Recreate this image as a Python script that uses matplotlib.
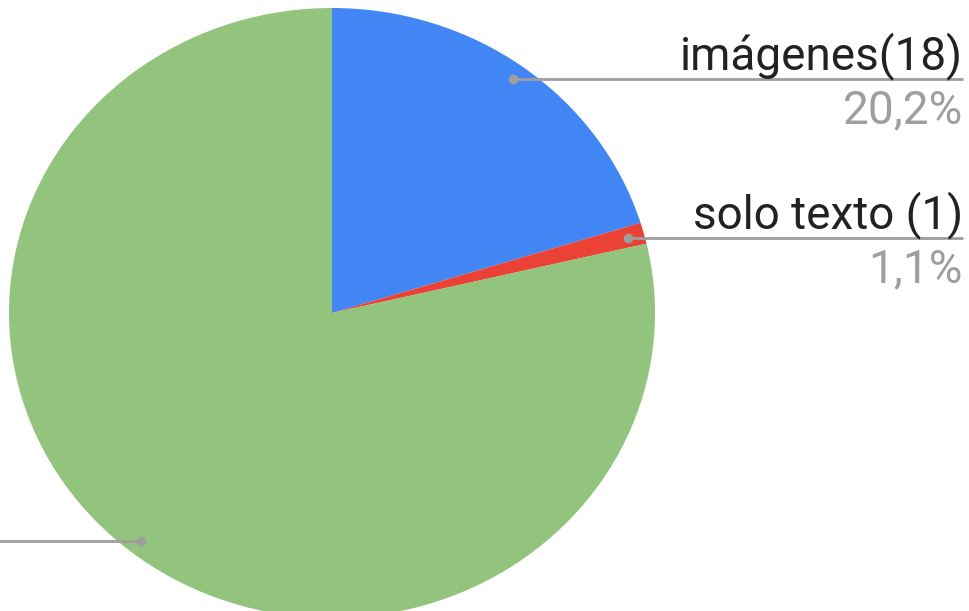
import matplotlib
matplotlib.use("Agg")
import matplotlib.pyplot as plt
import numpy as np

# data
labels = ["imágenes(18)", "solo texto (1)", "otros (70)"]
values = [18, 1, 70]
pct_labels = ["20,2%", "1,1%", "78,7%"]
colors = ["#4285F4", "#EA4335", "#93C47D"]

W, H = 969, 611
plt.rcParams["font.family"] = ["Roboto", "DejaVu Sans"]

fig = plt.figure(figsize=(W / 100, H / 100), dpi=100)
ax = fig.add_axes([0, 0, 1, 1])

# pie is slightly squashed vertically in the screenshot
sy = 305 / 323
cx, cy_px, r = 332, 313, 323
ax.pie(values, colors=colors, startangle=90, counterclock=False,
       center=(cx, (H - cy_px) / sy), radius=r,
       wedgeprops=dict(linewidth=0))
ax.set_aspect("auto")
ax.set_xlim(0, W)
ax.set_ylim(0, H / sy)
ax.axis("off")


def to_data(px, py):
    return px, (H - py) / sy


line_col = "#9E9E9E"
# leader lines: (dot x, line y)
leaders = [(513, 79), (628, 238), (141, 541)]
for i, (dx, ly) in enumerate(leaders):
    x0 = 963 if i < 2 else -5
    ax.plot([dx, x0], [to_data(dx, ly)[1]] * 2, color=line_col, lw=2,
            solid_capstyle="butt", zorder=3)
    ax.plot(dx, to_data(dx, ly)[1], "o", color=line_col, ms=6, zorder=4)
    if i < 2:
        ax.text(963, to_data(0, ly - 10)[1], labels[i], ha="right",
                va="baseline", fontsize=33, color="#222222")
        ax.text(963, to_data(0, ly + 44)[1], pct_labels[i], ha="right",
                va="baseline", fontsize=33, color="#9E9E9E")

fig.savefig("out.png", dpi=100)
